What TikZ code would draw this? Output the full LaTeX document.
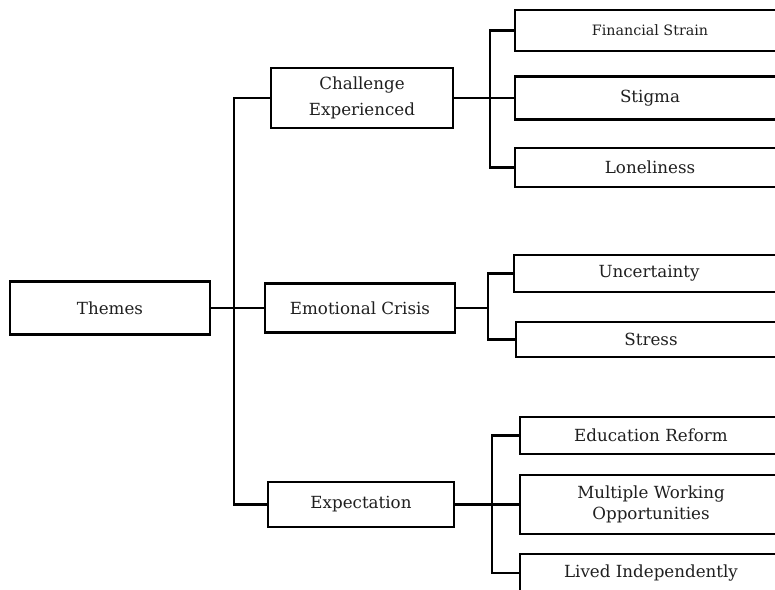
\documentclass[tikz,border=0pt]{standalone}
\usepackage{fontspec}
\setmainfont{DejaVu Serif}
\begin{document}
\begin{tikzpicture}[x=1pt,y=-1pt,
  box/.style={draw=black,line width=2.2pt,fill=white,align=center,inner sep=0pt,
    text=black!88,font=\fontsize{16.7}{25.7}\selectfont},
  conn/.style={draw=black,line width=2.2pt}]
\useasboundingbox (0,0) rectangle (775,589);
\clip (0,0) rectangle (775,589);
% level 0
\node[box,minimum width=200pt,minimum height=53pt] (themes) at (110,308) {Themes};
% level 1
\node[box,minimum width=182pt,minimum height=60pt] (chal) at (362,98) {Challenge\\Experienced};
\node[box,minimum width=190pt,minimum height=49pt] (emo) at (360,308) {Emotional Crisis};
\node[box,minimum width=186pt,minimum height=45pt] (exp) at (361,504.5) {Expectation};
% level 2
\node[box,minimum width=270pt,minimum height=41pt,font=\fontsize{14.3}{16}\selectfont] (fin) at (650,30.5) {Financial Strain};
\node[box,minimum width=270pt,minimum height=43pt] (stig) at (650,98) {Stigma};
\node[box,minimum width=270pt,minimum height=39pt] (lon) at (650,167.5) {Loneliness};
\node[box,minimum width=270pt,minimum height=37pt] (unc) at (649,273.5) {Uncertainty};
\node[box,minimum width=270pt,minimum height=35pt] (str) at (651,339.5) {Stress};
\node[box,minimum width=262pt,minimum height=37pt] (edu) at (651,435.5) {Education Reform};
\node[box,minimum width=262pt,minimum height=59pt,font=\fontsize{16.7}{21}\selectfont] (mul) at (651,504.5) {Multiple Working\\Opportunities};
\node[box,minimum width=262pt,minimum height=38pt] (liv) at (651,573) {Lived Independently};
% connectors
\coordinate (t0) at (234,0);
\coordinate (t1) at (490,0);
\coordinate (t2) at (488,0);
\coordinate (t3) at (492,0);
\draw[conn] (themes.east) -- (emo.west);
\draw[conn] (chal.west) -- (chal.west -| t0) -- (exp.west -| t0) -- (exp.west);
\draw[conn] (chal.east) -- (stig.west);
\draw[conn] (fin.west) -- (fin.west -| t1) -- (lon.west -| t1) -- (lon.west);
\draw[conn] (emo.east) -- (emo.east -| t2);
\draw[conn] (unc.west) -- (unc.west -| t2) -- (str.west -| t2) -- (str.west);
\draw[conn] (exp.east) -- (mul.west);
\draw[conn] (edu.west) -- (edu.west -| t3) -- (liv.west -| t3) -- (liv.west);
\end{tikzpicture}
\end{document}
